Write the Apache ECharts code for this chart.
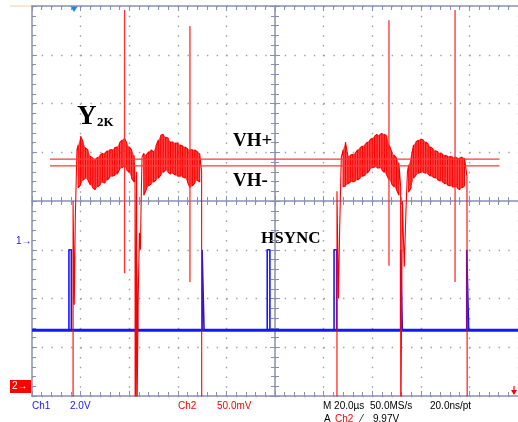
<!DOCTYPE html>
<html>
<head>
<meta charset="utf-8">
<script src="https://cdn.jsdelivr.net/npm/echarts@6/dist/echarts.min.js"></script>
<style>
html, body { margin: 0; padding: 0; background: #fff; }
#scope { width: 518px; height: 422px; }
</style>
</head>
<body>
<div id="scope"></div>
<script>
// time in µs (20 µs/div), level in screen divisions (0 = centre line)

// Ch1 - HSYNC
var ch1Base = -2.65;
var ch1Top = -1.0;
var hsyncStart = [15.2, 42.8, 70.0, 96.8, 124.3, 151.7, 178.9];
var hsyncEnd = [16.2, 43.5, 70.8, 97.9, 125.4, 152.4, 179.7];

// VH+ / VH- thresholds
var vhLevels = [0.86, 0.72];
var vhSpan = [7.4, 192.4];

// Ch2 - Y2K, noise envelope of each active line
var band1Time = [19, 20, 21, 22, 23, 24, 25, 26, 27, 28, 29, 30, 31, 32, 33, 34, 35, 36, 37, 38, 39, 40, 41, 42];
var band1Top = [1.15, 1.33, 1.21, 1.09, 1.05, 0.92, 0.88, 0.84, 0.90, 0.94, 0.98, 0.98, 1.03, 1.05, 1.05, 1.09, 1.11, 1.19, 1.25, 1.29, 1.19, 1.11, 1.05, 0.94];
var band1Bot = [0.27, 0.33, 0.43, 0.47, 0.43, 0.33, 0.27, 0.23, 0.29, 0.33, 0.39, 0.37, 0.43, 0.49, 0.51, 0.53, 0.55, 0.64, 0.68, 0.72, 0.64, 0.59, 0.47, 0.39];

var band2Time = [46, 47, 48, 49, 50, 51, 52, 53, 54, 55, 56, 57, 58, 59, 60, 61, 62, 63, 64, 65, 66, 67, 68, 69];
var band2Top = [0.98, 0.94, 1.01, 1.05, 1.01, 1.13, 1.25, 1.35, 1.37, 1.31, 1.29, 1.21, 1.21, 1.19, 1.19, 1.15, 1.13, 1.11, 1.07, 1.05, 1.05, 1.05, 1.01, 0.98];
var band2Bot = [0.12, 0.23, 0.31, 0.35, 0.39, 0.43, 0.47, 0.53, 0.59, 0.64, 0.59, 0.55, 0.57, 0.53, 0.51, 0.51, 0.49, 0.47, 0.39, 0.27, 0.31, 0.37, 0.43, 0.39];

var band3Time = [128, 129, 130, 131, 132, 133, 134, 135, 136, 137, 138, 139, 140, 141, 142, 143, 144, 145, 146, 147, 148, 149, 150, 151];
var band3Top = [1.05, 1.21, 0.92, 0.94, 0.96, 0.98, 1.05, 1.09, 1.13, 1.15, 1.21, 1.25, 1.29, 1.33, 1.37, 1.35, 1.39, 1.37, 1.33, 1.15, 1.01, 0.94, 0.88, 0.78];
var band3Bot = [0.29, 0.31, 0.35, 0.39, 0.39, 0.41, 0.43, 0.47, 0.51, 0.53, 0.57, 0.64, 0.68, 0.70, 0.68, 0.68, 0.64, 0.59, 0.53, 0.43, 0.35, 0.29, 0.23, 0.12];

var band4Time = [155, 156, 157, 158, 159, 160, 161, 162, 163, 164, 165, 166, 167, 168, 169, 170, 171, 172, 173, 174, 175, 176, 177, 178];
var band4Top = [0.74, 0.88, 1.15, 1.21, 1.25, 1.27, 1.25, 1.21, 1.17, 1.11, 1.07, 1.03, 1.01, 0.98, 0.96, 0.94, 0.92, 0.92, 0.90, 0.90, 0.88, 0.88, 0.90, 0.88];
var band4Bot = [0.18, 0.27, 0.47, 0.53, 0.57, 0.59, 0.59, 0.57, 0.55, 0.51, 0.49, 0.47, 0.43, 0.41, 0.39, 0.35, 0.33, 0.31, 0.29, 0.29, 0.27, 0.23, 0.27, 0.31];

// transitions in and out of the blanking level (far below the screen)
var edgeIn1 = [[16.9, -5], [16.9, 0.0], [17.4, -2.13], [17.8, -0.39], [18.2, 0.43], [18.5, 1.05]];
var gap12 = [[42.4, 0.4], [42.45, -5], [43.0, -5], [43.05, 0.6], [43.1, -5], [43.6, -5], [43.7, -2.0], [44.2, -0.65], [44.6, -1.0], [45.0, 0.2], [45.3, 0.9]];
var gap23 = [[69.8, 0.6], [69.85, -5], [125.5, -5], [125.5, 0.2], [126.1, -2.0], [126.6, -0.6], [127.0, 0.3], [127.3, 0.9]];
var gap34 = [[151.7, 0.3], [151.75, -5], [152.3, -5], [152.4, 0.0], [153.2, -1.35], [153.9, -0.2], [154.5, 0.6]];
var edgeOut4 = [[179.0, 0.5], [179.1, -5], [200, -5]];

// glitches
var spikeTime = [38.1, 65.0, 146.9, 174.1];
var spikeHigh = [3.92, 3.59, 3.71, 3.92];
var spikeLow = [-1.48, -1.66, -1.33, -1.66];

var bands = [
    { time: band1Time, top: band1Top, bot: band1Bot },
    { time: band2Time, top: band2Top, bot: band2Bot },
    { time: band3Time, top: band3Top, bot: band3Bot },
    { time: band4Time, top: band4Top, bot: band4Bot }
];

// vertical noise strokes, alternating direction
function strokes(b) {
    var out = [];
    b.time.forEach(function (t, i) {
        if (i % 2 === 0) out.push([t, b.top[i]], [t, b.bot[i]]);
        else out.push([t, b.bot[i]], [t, b.top[i]]);
    });
    return out;
}

var ch2Data = [].concat(
    edgeIn1, strokes(bands[0]),
    gap12, strokes(bands[1]),
    gap23, strokes(bands[2]),
    gap34, strokes(bands[3]),
    edgeOut4
);

var ch1Data = [[0, ch1Base]];
hsyncStart.forEach(function (s, i) {
    ch1Data.push([s, ch1Base], [s, ch1Top], [hsyncEnd[i], ch1Top], [hsyncEnd[i], ch1Base]);
});
ch1Data.push([200, ch1Base]);

var frameColor = '#8a90b2';
var RED = '#ff0000';
var BLUE = '#1616ff';

function xAx(pos, offset, inside, line, split) {
    return {
        type: 'value', min: 0, max: 200, interval: 20, position: pos, offset: offset,
        axisLine: { show: line, onZero: false, lineStyle: { color: frameColor, width: 1.5 } },
        axisTick: { show: true, inside: inside, length: 5, lineStyle: { color: frameColor } },
        minorTick: { show: true, splitNumber: 5, length: 4, lineStyle: { color: frameColor } },
        axisLabel: { show: false },
        splitLine: { show: split, lineStyle: { color: '#a0a0a0', width: 1.4, type: [1.4, 8.35] } }
    };
}
function yAx(pos, offset, inside, line, split) {
    return {
        type: 'value', min: -4, max: 4, interval: 1, position: pos, offset: offset,
        axisLine: { show: line, onZero: false, lineStyle: { color: frameColor, width: 1.5 } },
        axisTick: { show: true, inside: inside, length: 5, lineStyle: { color: frameColor } },
        minorTick: { show: true, splitNumber: 5, length: 4, lineStyle: { color: frameColor } },
        axisLabel: { show: false },
        splitLine: { show: split, lineStyle: { color: '#a0a0a0', width: 1.4, type: [1.4, 8.32] } }
    };
}

function spikeSeries(i) {
    return {
        type: 'line', showSymbol: false, silent: true,
        data: [[spikeTime[i], spikeLow[i]], [spikeTime[i], spikeHigh[i]]],
        lineStyle: { color: '#ff3030', width: 1.3 }
    };
}

var serif = '"Liberation Serif", "Times New Roman", serif';
var sans = '"Liberation Sans", Arial, sans-serif';
function label(x, y, text, font, color) {
    return { type: 'text', x: x, y: y, silent: true,
        style: { text: text, font: font, fill: color, verticalAlign: 'middle' } };
}

var chart = echarts.init(document.getElementById('scope'));
chart.setOption({
    animation: false,
    backgroundColor: '#fff',
    grid: { left: 32, top: 6, width: 486, height: 390 },
    xAxis: [
        xAx('bottom', 0, true, true, true),
        xAx('top', 0, true, true, false),
        xAx('bottom', -195, true, true, false),
        xAx('bottom', -195, false, false, false)
    ],
    yAxis: [
        yAx('left', 0, true, true, true),
        yAx('left', -243, true, true, false),
        yAx('left', -243, false, false, false)
    ],
    series: [
        {
            type: 'line', showSymbol: false, silent: true,
            data: [[0, ch1Base], [200, ch1Base]],
            lineStyle: { color: BLUE, width: 3 }
        },
        {
            type: 'line', showSymbol: false, silent: true,
            data: ch1Data,
            lineStyle: { color: BLUE, width: 1.6 }
        },
        {
            // dense noise body of each active line
            type: 'custom', silent: true,
            data: [[0, 0], [1, 0], [2, 0], [3, 0]],
            renderItem: function (params, api) {
                var b = bands[params.dataIndex];
                var pts = [];
                b.time.forEach(function (t, i) { pts.push(api.coord([t, b.top[i]])); });
                for (var i = b.time.length - 1; i >= 0; i--) {
                    pts.push(api.coord([b.time[i], b.bot[i]]));
                }
                return { type: 'polygon', shape: { points: pts }, style: { fill: RED, opacity: 0.72 } };
            }
        },
        {
            type: 'line', showSymbol: false, silent: true,
            data: ch2Data,
            lineStyle: { color: RED, width: 1.1 }
        },
        spikeSeries(0), spikeSeries(1), spikeSeries(2), spikeSeries(3),
        {
            type: 'line', showSymbol: false, silent: true,
            data: [[vhSpan[0], vhLevels[0]], [vhSpan[1], vhLevels[0]]],
            lineStyle: { color: '#ff3a3a', width: 1.4 }
        },
        {
            type: 'line', showSymbol: false, silent: true,
            data: [[vhSpan[0], vhLevels[1]], [vhSpan[1], vhLevels[1]]],
            lineStyle: { color: '#ff3a3a', width: 1.4 }
        }
    ],
    graphic: [
        { type: 'line', silent: true, shape: { x1: 10, y1: 6, x2: 32, y2: 6 }, style: { stroke: '#f3cfa8', lineWidth: 1 } },
        { type: 'polygon', silent: true, shape: { points: [[70, 6], [78, 6], [74, 12]] }, style: { fill: '#1e88e5' } },
        label(77, 117, 'Y', 'bold 27px ' + serif, '#000'),
        label(97, 122.5, '2K', 'bold 13px ' + serif, '#000'),
        label(233, 141, 'VH+', 'bold 19px ' + serif, '#000'),
        label(233, 181.5, 'VH-', 'bold 19px ' + serif, '#000'),
        label(261, 239, 'HSYNC', 'bold 17px ' + serif, '#000'),
        label(16, 241.5, '1\u2192', '10px ' + sans, BLUE),
        { type: 'rect', silent: true, shape: { x: 10, y: 380, width: 21, height: 13 }, style: { fill: RED } },
        label(12, 386.5, '2\u2192', '10px ' + sans, '#fff'),
        { type: 'line', silent: true, shape: { x1: 514, y1: 386, x2: 514, y2: 392 }, style: { stroke: RED, lineWidth: 1.2 } },
        { type: 'polygon', silent: true, shape: { points: [[511, 390], [517, 390], [514, 395]] }, style: { fill: RED } },
        label(32, 406, 'Ch1', '10px ' + sans, BLUE),
        label(70, 406, '2.0V', '10px ' + sans, BLUE),
        label(178, 406, 'Ch2', '10px ' + sans, RED),
        label(217, 406, '50.0mV', '10px ' + sans, RED),
        label(323, 406, 'M 20.0\u00b5s', '10px ' + sans, '#000'),
        label(370, 406, '50.0MS/s', '10px ' + sans, '#000'),
        label(430, 406, '20.0ns/pt', '10px ' + sans, '#000'),
        label(324, 419, 'A', '10px ' + sans, '#000'),
        label(335, 419, 'Ch2', '10px ' + sans, RED),
        label(361, 419, '\u2044', '10px ' + sans, '#000'),
        label(373, 419, '9.97V', '10px ' + sans, '#000')
    ]
});
</script>
</body>
</html>
